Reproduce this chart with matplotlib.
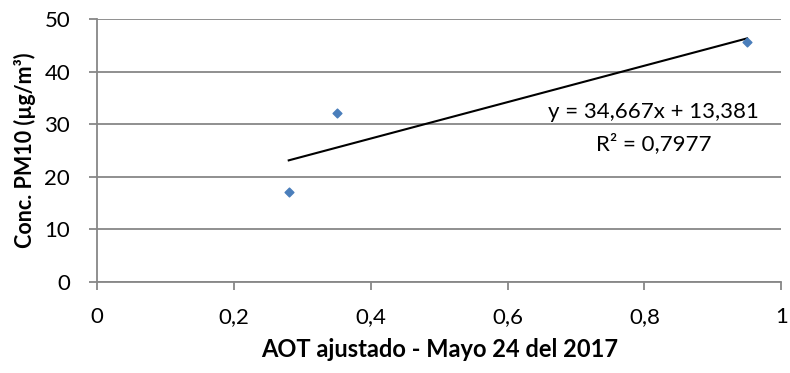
import matplotlib.pyplot as plt
import numpy as np

plt.rcParams.update({
    "font.family": ["Lato", "DejaVu Sans"],
    "font.size": 16,
})

# scatter data
aot = [0.28, 0.35, 0.95]
pm10 = [17.0, 32.2, 45.7]

# trendline reported in the chart
slope = 34.667
intercept = 13.381
r2 = 0.7977

x_ticks = [0, 0.2, 0.4, 0.6, 0.8, 1]
x_tick_labels = ["0", "0,2", "0,4", "0,6", "0,8", "1"]
y_ticks = [0, 10, 20, 30, 40, 50]

GRID = "#878787"
BLUE = "#4a7ebb"

fig = plt.figure(figsize=(7.9, 3.73), dpi=100)
ax = fig.add_axes([0.123, 0.245, 0.866, 0.704])

ax.yaxis.grid(True, color=GRID, linewidth=1.3)
ax.set_axisbelow(True)

ax.scatter(aot, pm10, marker="D", s=20, color=BLUE, zorder=3)

xs = np.array([min(aot), max(aot)])
ax.plot(xs, slope * xs + intercept, color="black", linewidth=1.5, zorder=2)

ax.set_xlim(0, 1)
ax.set_ylim(0, 50)
ax.set_xticks(x_ticks)
ax.set_xticklabels(x_tick_labels)
ax.set_yticks(y_ticks)

for side in ("top", "right"):
    ax.spines[side].set_visible(False)
for side in ("left", "bottom"):
    ax.spines[side].set_color(GRID)
    ax.spines[side].set_linewidth(1.3)
ax.tick_params(axis="both", colors=GRID, labelcolor="black", length=5.5, width=1.3)
ax.tick_params(axis="x", pad=13)
ax.tick_params(axis="y", pad=14)

ax.set_xlabel("AOT ajustado - Mayo 24 del 2017", fontweight="bold", fontsize=17, labelpad=8)
ax.set_ylabel("Conc. PM10 (µg/m³)", fontweight="bold", fontsize=15.5, labelpad=6)

eq = f"y = {slope:.3f}x + {intercept:.3f}".replace(".", ",")
r2_txt = f"R² = {r2:.4f}".replace(".", ",")
ax.text(0.813, 32.3, eq, ha="center", va="center", fontsize=16)
ax.text(0.813, 26.3, r2_txt, ha="center", va="center", fontsize=16)

fig.savefig("out.png", dpi=100)
